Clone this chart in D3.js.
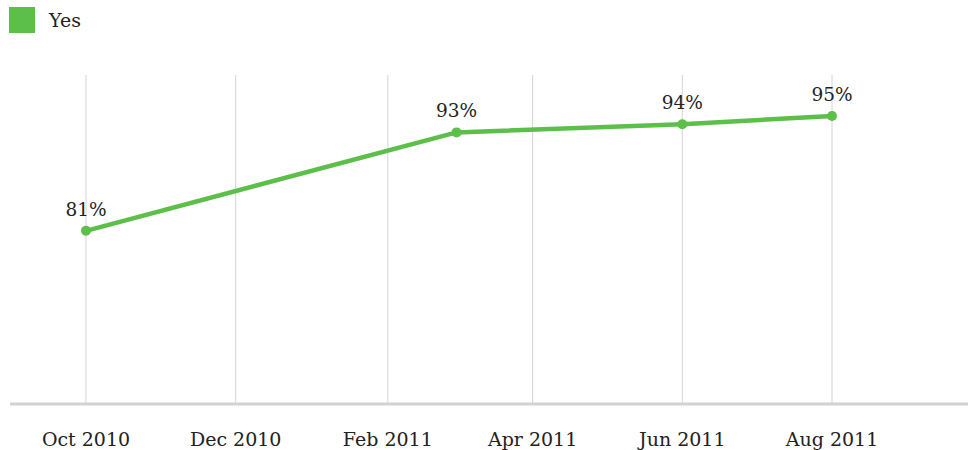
<!DOCTYPE html>
<html>
<head>
<meta charset="utf-8">
<script src="https://cdn.jsdelivr.net/npm/d3@7"></script>
<style>
  body { margin: 0; background: #fff; }
  text { font-family: Georgia, "DejaVu Serif", serif; fill: #222; }
</style>
</head>
<body>
<svg id="mysvg" width="968" height="450"></svg>
<script>
let seriesName = "Yes";
let dates = ["2010-10-01", "2011-03-01", "2011-06-01", "2011-08-01"];
let values = [81, 93, 94, 95];
let tickDates = ["2010-10-01", "2010-12-01", "2011-02-01", "2011-04-01", "2011-06-01", "2011-08-01"];
let tickLabels = ["Oct 2010", "Dec 2010", "Feb 2011", "Apr 2011", "Jun 2011", "Aug 2011"];

let green = "#5bbf4a";
let parse = d3.timeParse("%Y-%m-%d");

let svg = d3.select('#mysvg');

let x = d3.scaleTime()
    .domain([parse("2010-10-01"), parse("2011-08-01")])
    .range([86, 832]);
let y = d3.scaleLinear()
    .domain([60, 100])
    .range([403, 75]);

let data = dates.map(function(d, i){ return {date: parse(d), value: values[i]}; });
let ticks = tickDates.map(function(d, i){ return {date: parse(d), label: tickLabels[i]}; });

// vertical grid
svg.selectAll("line.grid")
    .data(ticks)
    .enter()
    .append("line")
    .attr("class", "grid")
    .attr("x1", d => x(d.date)).attr("x2", d => x(d.date))
    .attr("y1", y(100)).attr("y2", y(60))
    .attr("stroke", "#d4d4d4")
    .attr("stroke-width", 1);

// baseline
svg.append("line")
    .attr("x1", 10).attr("x2", 968)
    .attr("y1", y(60) + 1).attr("y2", y(60) + 1)
    .attr("stroke", "#d2d2d2")
    .attr("stroke-width", 3);

// x labels
svg.selectAll("text.xlabel")
    .data(ticks)
    .enter()
    .append("text")
    .attr("class", "xlabel")
    .attr("x", d => x(d.date))
    .attr("y", 446)
    .attr("text-anchor", "middle")
    .attr("font-size", 19)
    .text(d => d.label);

// line
let line = d3.line()
    .x(d => x(d.date))
    .y(d => y(d.value));

svg.append("path")
    .datum(data)
    .attr("d", line)
    .attr("fill", "none")
    .attr("stroke", green)
    .attr("stroke-width", 4.5)
    .attr("stroke-linejoin", "round");

svg.selectAll("circle.pt")
    .data(data)
    .enter()
    .append("circle")
    .attr("class", "pt")
    .attr("cx", d => x(d.date))
    .attr("cy", d => y(d.value))
    .attr("r", 5)
    .attr("fill", green);

svg.selectAll("text.vlabel")
    .data(data)
    .enter()
    .append("text")
    .attr("class", "vlabel")
    .attr("x", d => x(d.date))
    .attr("y", d => y(d.value) - 15)
    .attr("text-anchor", "middle")
    .attr("font-size", 18.5)
    .attr("fill", "#333")
    .text(d => d.value + "%");

// legend
svg.append("rect")
    .attr("x", 9).attr("y", 7)
    .attr("width", 26).attr("height", 26)
    .attr("fill", green);
svg.append("text")
    .attr("x", 49).attr("y", 27)
    .attr("font-size", 19)
    .text(seriesName);
</script>
</body>
</html>
